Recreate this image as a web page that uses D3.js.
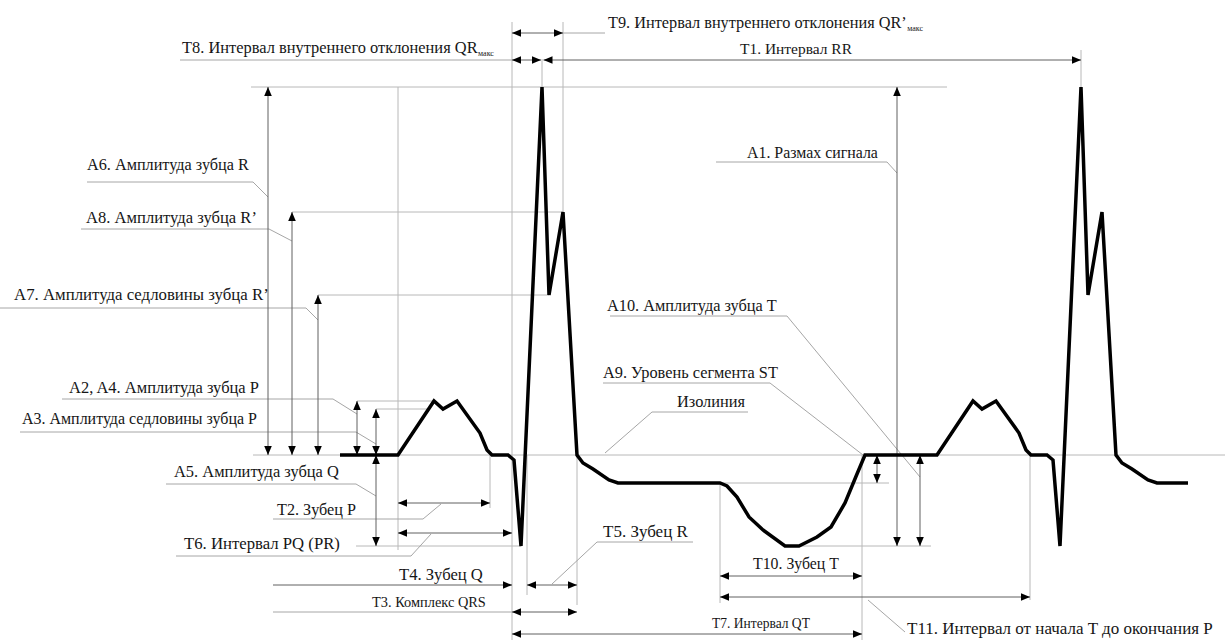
<!DOCTYPE html>
<html>
<head>
<meta charset="utf-8">
<script src="https://cdn.jsdelivr.net/npm/d3@7"></script>
</head>
<body style="margin:0">
<svg id="chart" width="1225" height="640"></svg>
<script>
// ECG with the amplitude (A1..A10) and time (T1..T11) measures marked on it

// waveform: time in ms, amplitude in mV
var ecgTime = [680, 796, 868, 886, 914, 960, 974, 984, 1016, 1028, 1042, 1084, 1098, 1126, 1154,
               1166, 1186, 1218, 1236, 1440, 1454, 1474, 1498, 1526, 1570, 1598, 1634, 1662, 1690,
               1714, 1730, 1874, 1946, 1964, 1992, 2038, 2052, 2062, 2094, 2106, 2120, 2162, 2176,
               2204, 2232, 2244, 2264, 2296, 2314, 2376];
var ecgAmp  = [0, 0, 0.27, 0.23, 0.27, 0.11, 0.025, 0, 0, -0.025, -0.455, 1.84, 0.8, 1.215, 0,
               -0.04, -0.07, -0.125, -0.14, -0.14, -0.155, -0.21, -0.31, -0.375, -0.455, -0.455, -0.41, -0.36, -0.24,
               -0.095, 0, 0, 0.27, 0.23, 0.27, 0.11, 0.025, 0, 0, -0.025, -0.455, 1.84, 0.8,
               1.215, 0, -0.04, -0.07, -0.125, -0.14, -0.14];

// time marks (ms)
var markNames = ["pOn", "pPeak", "pOff", "qrsOn", "qBottom", "qCross", "rPeak", "rSaddle", "rPrime",
                 "qrsOff", "tOn", "tBottomEnd", "tOff", "p2Off", "r2Peak"];
var markTimes = [796, 868, 980, 1024, 1042, 1054, 1084, 1098, 1126, 1154, 1440, 1598, 1724, 2060, 2162];

// amplitude levels (mV)
var levelNames = ["iso", "rPeak", "rPrime", "rSaddle", "pPeak", "pSaddle", "qDepth", "stLevel", "tDepth"];
var levelAmps  = [0, 1.84, 1.215, 0.8, 0.27, 0.23, -0.455, -0.14, -0.455];

var labelText = [
  "T9. Интервал внутреннего отклонения QR’", "T8. Интервал внутреннего отклонения QR",
  "T1. Интервал RR", "A1. Размах сигнала", "A6. Амплитуда зубца R", "A8. Амплитуда зубца R’",
  "A7. Амплитуда седловины зубца R’", "A2, A4. Амплитуда зубца P", "A3. Амплитуда седловины зубца P",
  "A5. Амплитуда зубца Q", "T2. Зубец P", "T6. Интервал PQ  (PR)", "T4. Зубец Q", "T3. Комплекс QRS",
  "T5. Зубец R", "T10. Зубец T", "T7. Интервал QT", "T11. Интервал от начала T до окончания P",
  "A10. Амплитуда зубца T", "A9. Уровень сегмента ST", "Изолиния"
];
var labelSub = ["макс", "макс"];

var width = 1225, height = 640;
var svg = d3.select("#chart");

var x = d3.scaleLinear().domain([0, 2450]).range([0, width]);
var y = d3.scaleLinear().domain([-0.925, 2.275]).range([height, 0]);

function M (name) { return x(markTimes[markNames.indexOf(name)]); }
function L (name) { return y(levelAmps[levelNames.indexOf(name)]); }

var gRef = svg.append("g"), gLead = svg.append("g"), gDim = svg.append("g"),
    gEcg = svg.append("g"), gText = svg.append("g");

function ref (x1, y1, x2, y2) {
  gRef.append("line").attr("stroke", "#b8b8b8").attr("stroke-width", 1)
      .attr("x1", x1).attr("y1", y1).attr("x2", x2).attr("y2", y2);
}

function leader (pts, col) {
  gLead.append("path").attr("fill", "none").attr("stroke", col || "#a6a6a6").attr("stroke-width", 1)
       .attr("d", d3.line()(pts));
}

// arrowhead with tip at (px,py)
function head (px, py, dir) {
  var l = 9, w = 3.8, p;
  if (dir === "left")  p = [[px, py], [px + l, py - w], [px + l, py + w]];
  if (dir === "right") p = [[px, py], [px - l, py - w], [px - l, py + w]];
  if (dir === "up")    p = [[px, py], [px - w, py + l], [px + w, py + l]];
  if (dir === "down")  p = [[px, py], [px - w, py - l], [px + w, py - l]];
  gDim.append("path").attr("fill", "#000").attr("d", d3.line()(p) + "Z");
}

function shaft (x1, y1, x2, y2) {
  gDim.append("line").attr("stroke", "#606060").attr("stroke-width", 1)
      .attr("x1", x1).attr("y1", y1).attr("x2", x2).attr("y2", y2);
}

function hArrow (yy, xa, xb) {
  shaft(xa, yy, xb, yy);
  head(xa, yy, "left");
  head(xb, yy, "right");
}

function vArrow (xx, ya, yb) {
  shaft(xx, ya, xx, yb);
  head(xx, ya, "up");
  head(xx, yb, "down");
}

// place a label, then scale its font so it covers the width
function label (i, tx, ty, w, sub) {
  var t = gText.append("text").attr("x", tx).attr("y", ty)
               .style("font-family", "Liberation Serif")
               .style("font-size", "15px")
               .style("fill", "#161616")
               .text(labelText[i]);
  var subW = sub ? 20 : 0;
  var len = t.node().getComputedTextLength();
  var fs = 15;
  if (len > 0) {
    fs = Math.max(13, Math.min(17, 15 * (w - subW) / len));
    t.style("font-size", fs + "px");
    len = t.node().getComputedTextLength();
  }
  if (sub) {
    gText.append("text").attr("x", tx + len + 0.5).attr("y", ty + 3)
         .style("font-family", "Liberation Serif")
         .style("font-size", "8px")
         .style("fill", "#161616")
         .text(sub);
  }
}

// ---- reference lines
ref(253, L("iso"), width, L("iso"));
ref(251, L("rPeak"), 947, L("rPeak"));
ref(292, L("rPrime"), M("rPrime"), L("rPrime"));
ref(318, L("rSaddle"), M("rSaddle"), L("rSaddle"));
ref(357, L("pPeak"), M("pPeak"), L("pPeak"));
ref(376, L("pSaddle"), M("pPeak") - 4, L("pSaddle"));
ref(356, L("qDepth"), M("qBottom"), L("qDepth"));
ref(M("tBottomEnd"), L("tDepth"), 931, L("tDepth"));
ref(M("tOn"), L("stLevel"), 889, L("stLevel"));

ref(M("pOn"), L("rPeak"), M("pOn"), 550);
ref(M("pOff"), L("iso"), M("pOff"), 508);
ref(M("qrsOn"), 22, M("qrsOn"), 640);
ref(M("rPeak"), 59, M("rPeak"), L("rPeak"));
ref(M("rPrime"), 22, M("rPrime"), L("rPrime"));
ref(M("qCross"), L("iso"), M("qCross"), 595);
ref(M("qrsOff"), L("iso"), M("qrsOff"), 605);
ref(M("tOn"), L("stLevel"), M("tOn"), 603);
ref(M("tOff"), L("iso"), M("tOff"), 640);
ref(M("p2Off"), L("iso"), M("p2Off"), 600);
ref(M("r2Peak"), 50, M("r2Peak"), L("rPeak"));

// ---- time measures
hArrow(33, M("qrsOn"), M("rPrime"));
leader([[M("rPrime"), 33], [605, 33]]);
leader([[180, 60], [M("qrsOn"), 60]]);
hArrow(60, M("qrsOn"), M("rPeak") - 1);
hArrow(60, M("rPeak") + 1.5, M("r2Peak"));
hArrow(503, M("pOn"), M("pOff"));
hArrow(533, M("pOn"), M("qrsOn"));
leader([[273, 585], [M("qrsOn"), 585]], "#606060");
head(M("qrsOn"), 585, "right");
hArrow(585, M("qCross"), M("qrsOff"));
leader([[273, 612], [M("qrsOn"), 612]]);
hArrow(612, M("qrsOn"), M("qrsOff"));
hArrow(634, M("qrsOn"), M("tOff"));
hArrow(576, M("tOn"), M("tOff"));
hArrow(597, M("tOn"), M("p2Off"));

// ---- amplitude measures
vArrow(268, L("rPeak"), L("iso"));
vArrow(292, L("rPrime"), L("iso"));
vArrow(318, L("rSaddle"), L("iso"));
vArrow(357, L("pPeak"), L("iso"));
vArrow(376, L("pSaddle"), L("iso"));
vArrow(376, L("iso"), L("qDepth"));
vArrow(897, L("rPeak"), L("tDepth"));
vArrow(877, L("iso"), L("stLevel"));
vArrow(920, L("iso"), L("tDepth"));

// ---- label leaders
leader([[716, 162], [887, 162], [897, 173]]);
leader([[87, 182], [253, 182], [268, 197]]);
leader([[81, 229], [269, 229], [292, 241]]);
leader([[0, 308], [306, 308], [318, 320]]);
leader([[62, 399], [333, 399], [357, 414]]);
leader([[20, 432], [356, 432], [376, 444]]);
leader([[166, 484], [356, 484], [376, 496]]);
leader([[273, 519], [423, 519], [441, 504]]);
leader([[176, 556], [411, 556], [431, 534]]);
leader([[693, 542], [597, 542], [552, 584]]);
leader([[905, 632], [868, 600]]);
leader([[610, 316], [787, 316], [920, 477]]);
leader([[603, 383], [770, 383], [863, 455]]);
leader([[748, 412], [652, 412], [605, 453]]);

// ---- waveform
var pts = ecgTime.map(function (t, i) { return [x(t), y(ecgAmp[i])]; });
gEcg.append("path").attr("fill", "none").attr("stroke", "#000").attr("stroke-width", 3.5)
    .attr("stroke-linejoin", "miter").attr("stroke-miterlimit", 6)
    .attr("d", d3.line()(pts));

// ---- labels
label(0, 608, 28, 319, labelSub[0]);
label(1, 182, 53, 316, labelSub[1]);
label(2, 740, 54, 112);
label(3, 747, 158, 131);
label(4, 87, 170, 162);
label(5, 86, 223, 171);
label(6, 14, 300, 255);
label(7, 69, 393, 190);
label(8, 22, 424, 235);
label(9, 174, 477, 165);
label(10, 277, 515, 79);
label(11, 184, 549, 156);
label(12, 399, 580, 84);
label(13, 372, 607, 114);
label(14, 603, 537, 86);
label(15, 753, 569, 86);
label(16, 712, 628, 98);
label(17, 907, 634, 316);
label(18, 607, 311, 170);
label(19, 603, 378, 175);
label(20, 677, 407, 68);
</script>
</body>
</html>
